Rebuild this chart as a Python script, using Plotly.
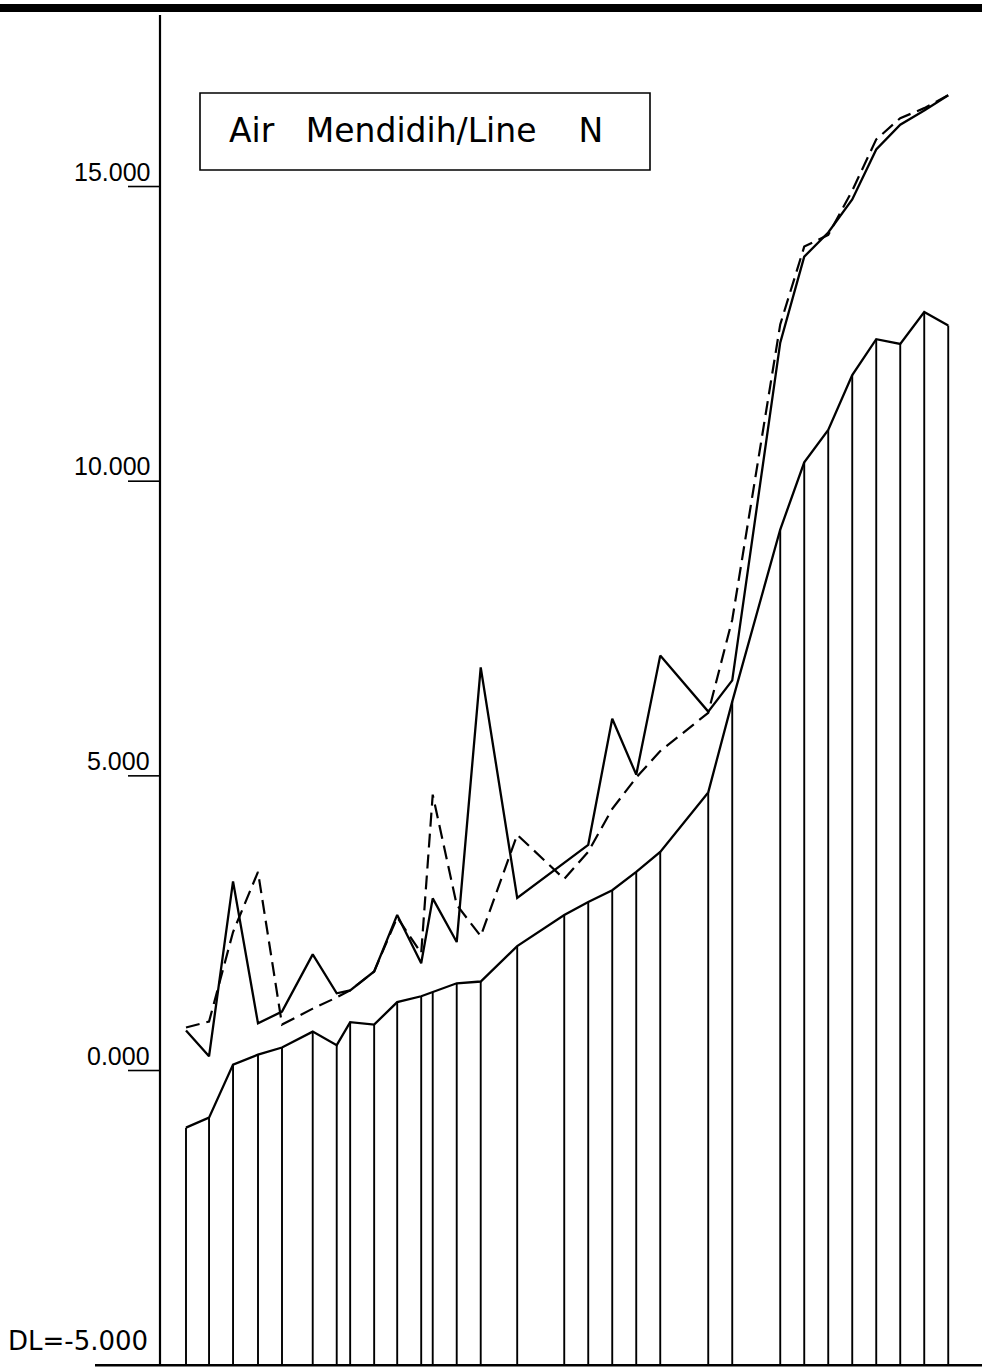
import plotly.graph_objects as go

# ---------------- data ----------------
# station chainage (m)
chainage = [0, 24, 49, 75, 100, 132, 157, 171, 196, 220, 245, 257, 282, 307, 345,
            394, 419, 444, 469, 494, 544, 569, 619, 644, 669, 694, 719, 744, 769, 794]
# level at top of hatched bars (bed / invert level)
bed_level = [-0.97, -0.80, 0.10, 0.27, 0.39, 0.66, 0.43, 0.82, 0.78, 1.16, 1.26, 1.33, 1.48, 1.51, 2.11,
             2.64, 2.86, 3.06, 3.37, 3.71, 4.72, 6.26, 9.18, 10.32, 10.87, 11.80, 12.41, 12.33, 12.87, 12.64]
# solid upper line
ground_level = [0.68, 0.24, 3.21, 0.80, 1.00, 1.97, 1.31, 1.36, 1.68, 2.64, 1.82, 2.92, 2.18, 6.84, 2.93,
                3.52, 3.83, 5.97, 5.02, 7.04, 6.09, 6.62, 12.35, 13.81, 14.22, 14.78, 15.63, 16.05, 16.29, 16.55]
# dashed upper line
design_level = [0.73, 0.83, 2.35, 3.37, 0.78, 1.05, 1.24, 1.36, 1.68, 2.60, 1.99, 4.68, 2.81, 2.28, 4.00,
                3.25, 3.71, 4.44, 4.97, 5.42, 6.07, 7.65, 12.66, 13.98, 14.18, 14.93, 15.80, 16.16, 16.33, 16.55]
tick_values = [0, 5, 10, 15]
tick_labels = ["0.000", "5.000", "10.000", "15.000"]
datum = -5
datum_label = "DL=-5.000"
title_text = "Air\u00a0\u00a0\u00a0Mendidih/Line\u00a0\u00a0\u00a0\u00a0N"

# ---------------- layout constants ----------------
W, H = 982, 1369
X_RANGE = [-193.75, 829.17]
Y_RANGE = [-5.065, 18.165]
LINE = "black"

fig = go.Figure()

# vertical station lines (bars) from datum up to bed level
bx, by = [], []
for c, b in zip(chainage, bed_level):
    bx += [c, c, None]
    by += [datum, b, None]
fig.add_trace(go.Scatter(x=bx, y=by, mode="lines",
                         line=dict(color=LINE, width=1.9), hoverinfo="skip"))
fig.add_trace(go.Scatter(x=chainage, y=bed_level, mode="lines",
                         line=dict(color=LINE, width=2.3)))
fig.add_trace(go.Scatter(x=chainage, y=ground_level, mode="lines",
                         line=dict(color=LINE, width=2.3)))
fig.add_trace(go.Scatter(x=chainage, y=design_level, mode="lines",
                         line=dict(color=LINE, width=2.2, dash="14px,7px")))

shapes = []
# top black border band
shapes.append(dict(type="rect", xref="paper", yref="paper", x0=0, x1=1,
                   y0=1 - 12 / H, y1=1 - 4 / H, fillcolor="black", line=dict(width=0)))
# vertical axis line
shapes.append(dict(type="line", xref="paper", yref="paper", x0=160 / W, x1=160 / W,
                   y0=(H - 1366) / H, y1=1 - 15 / H, line=dict(color=LINE, width=2.2)))
# datum line
shapes.append(dict(type="line", xref="paper", yref="y", x0=95 / W, x1=1,
                   y0=datum, y1=datum, line=dict(color=LINE, width=2.5)))
# tick marks
for t in tick_values:
    shapes.append(dict(type="line", xref="paper", yref="y", x0=128 / W, x1=160 / W,
                       y0=t, y1=t, line=dict(color=LINE, width=1.6)))
# title box
shapes.append(dict(type="rect", xref="paper", yref="paper", x0=200 / W, x1=650 / W,
                   y0=1 - 170 / H, y1=1 - 93 / H, line=dict(color=LINE, width=1.6)))

annotations = []
for t, lab in zip(tick_values, tick_labels):
    annotations.append(dict(xref="paper", yref="y", x=152 / W, y=t, xanchor="right",
                            yanchor="middle", yshift=15, text=lab, showarrow=False,
                            font=dict(family="Liberation Sans", size=25, color=LINE)))
annotations.append(dict(xref="paper", yref="y", x=150 / W, y=datum, xanchor="right",
                        yanchor="middle", yshift=24, text=datum_label, showarrow=False,
                        font=dict(family="DejaVu Sans", size=26, color=LINE)))
annotations.append(dict(xref="paper", yref="paper", x=416 / W, y=1 - 130 / H,
                        xanchor="center", yanchor="middle", text=title_text, showarrow=False,
                        font=dict(family="DejaVu Sans", size=33, color=LINE)))

fig.update_layout(
    width=W, height=H, autosize=False,
    margin=dict(l=0, r=0, t=0, b=0),
    paper_bgcolor="white", plot_bgcolor="white",
    showlegend=False,
    xaxis=dict(range=X_RANGE, visible=False, fixedrange=True),
    yaxis=dict(range=Y_RANGE, visible=False, fixedrange=True),
    shapes=shapes, annotations=annotations,
)

fig.write_html("out.html", config={"displayModeBar": False},
               post_script="document.body.style.margin='0';document.body.style.padding='0';")
